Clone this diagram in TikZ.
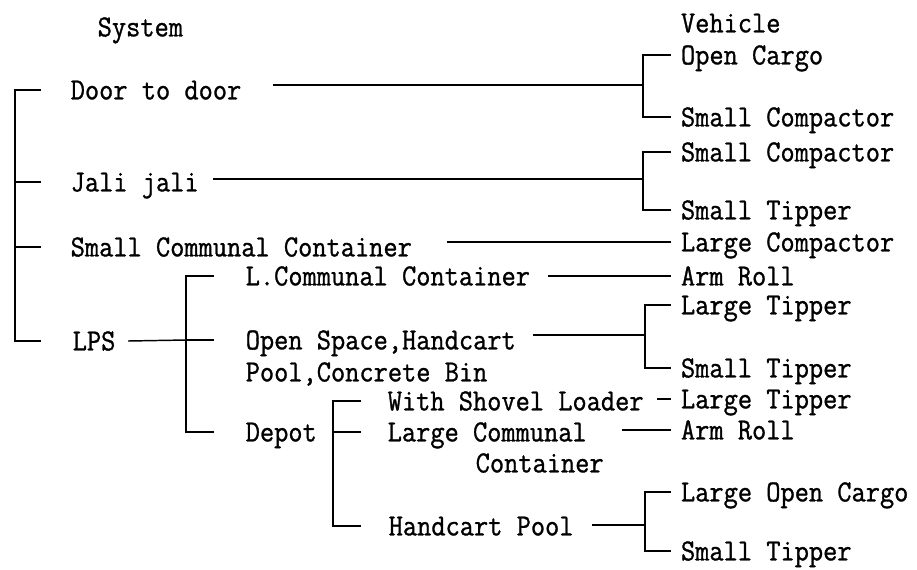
\documentclass[tikz,border=0pt]{standalone}
\usepackage{fontspec}
\newfontfamily\scanfont{Latin Modern Mono}[FakeStretch=0.90, FakeBold=1]
\usetikzlibrary{calc}
\begin{document}
\begin{tikzpicture}[x=0.75pt, y=-0.75pt, line width=1.1pt,
    every node/.style={font=\scanfont\fontsize{23}{23}\selectfont, inner sep=0pt,
      text height=14.1pt, text depth=0pt, anchor=west},
    vcol/.style={outer xsep=7.5pt}]
  \useasboundingbox (0,0) rectangle (917,569);

  % 1. headings
  \node (sys) at (97,27) {System};
  \node[vcol] (veh) at (671,23) {Vehicle};

  % 2. systems (left column)
  \node (door) at (70,90) {Door to door};
  \node (jali) at (70,182) {Jali jali};
  \node (scc) at (70,247) {Small Communal Container};
  \node (lps) at (72,341) {LPS};

  \node (lcc) at (245,276) {L.Communal Container};
  \node (osp) at (245,340) {Open Space,Handcart};
  \node (pool) at (245,372) {Pool,Concrete Bin};
  \node (depot) at (245,432) {Depot};

  \node (shov) at (387,401) {With Shovel Loader};
  \node (lcom) at (387,432) {Large Communal};
  \node (cont) at (475,463) {Container};
  \node (hcp) at (388,526) {Handcart Pool};

  % 3. vehicles (right column)
  \node[vcol] (oc) at (671,55) {Open Cargo};
  \node[vcol] (sc1) at (671,117) {Small Compactor};
  \node[vcol] (sc2) at (671,152) {Small Compactor};
  \node[vcol] (st1) at (671,210) {Small Tipper};
  \node[vcol] (lc) at (671,242) {Large Compactor};
  \node[vcol] (ar1) at (671,276) {Arm Roll};
  \node[vcol] (lt1) at (671,305) {Large Tipper};
  \node[vcol] (st2) at (671,368) {Small Tipper};
  \node[vcol] (lt2) at (671,399) {Large Tipper};
  \node[vcol] (ar2) at (671,430) {Arm Roll};
  \node[vcol] (loc) at (671,492) {Large Open Cargo};
  \node[vcol] (st3) at (671,551) {Small Tipper};

  % 4. bracket junctions
  \coordinate (jd) at (643,85);
  \coordinate (jj) at (643,179);
  \coordinate (jl) at (186,340);
  \coordinate (jo) at (645,335);
  \coordinate (jdp) at (333,432);
  \coordinate (jh) at (645,525);

  % 5. main bracket
  \draw ($(door.west)+(-29,0)$) -| ($(lps.west)+(-57,0)$) -- ($(lps.west)+(-31,0)$);
  \draw ($(jali.west)+(-29,0)$) -- +(-26,0);
  \draw ($(scc.west)+(-29,0)$) -- +(-26,0);

  % 6. system -> vehicle
  \draw ($(door.east |- jd)+(31,0)$) -- (jd);
  \draw (oc.west) -| (jd) |- (sc1.west);
  \draw ($(jali.east |- jj)+(14,0)$) -- (jj);
  \draw (sc2.west) -| (jj) |- (st1.west);
  \draw ($(scc.east |- lc.west)+(34,0)$) -- (lc.west);

  % 7. LPS branch
  \draw ($(lps.east)+(12,0)$) -- (jl);
  \draw ($(lcc.west)+(-31,0)$) -| (jl) |- ($(depot.west)+(-31,0)$);
  \draw (jl) -- ($(osp.west)+(-31,0)$);
  \draw ($(lcc.east |- ar1.west)+(17,0)$) -- (ar1.west);
  \draw ($(osp.east |- jo)+(16,0)$) -- (jo);
  \draw (lt1.west) -| (jo) |- (st2.west);

  % 8. depot branch
  \draw ($(shov.west)+(-26,0)$) -| (jdp) |- ($(hcp.west)+(-27,0)$);
  \draw (jdp) -- ($(lcom.west)+(-26,0)$);
  \draw ($(shov.east |- lt2.west)+(13,0)$) -- (lt2.west);
  \draw ($(lcom.east |- ar2.west)+(35,0)$) -- (ar2.west);
  \draw ($(hcp.east |- jh)+(18,0)$) -- (jh);
  \draw (loc.west) -| (jh) |- (st3.west);
\end{tikzpicture}
\end{document}
